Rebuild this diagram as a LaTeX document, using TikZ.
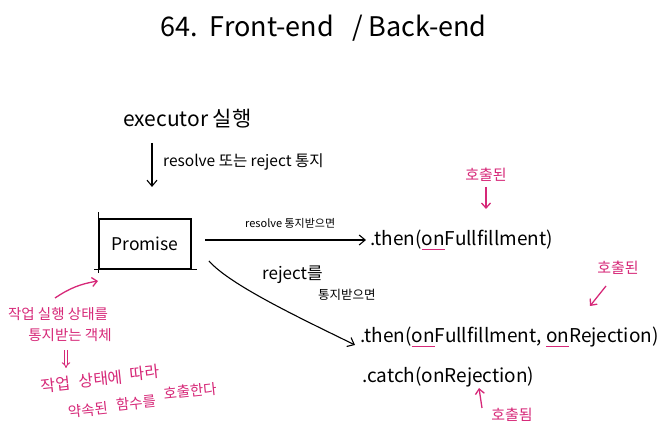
\documentclass[tikz,border=0pt]{standalone}
\usepackage{fontspec}
\setmainfont{Noto Sans CJK KR}
\usetikzlibrary{arrows.meta,calc}
\definecolor{magc}{RGB}{214,40,120}
\newcommand\uon{\setbox0\hbox{on}\rlap{\color{magc}\rule[-4pt]{\wd0}{1.3pt}}\box0}
\tikzset{
  ink/.style={line width=1.1pt, black},
  arr/.style={ink, -{Straight Barb[length=6pt,width=10pt]}},
  marr/.style={line width=1.3pt, magc, -{Straight Barb[length=5pt,width=9pt]}},
  txt/.style={inner sep=0pt, anchor=base west},
  mtxt/.style={inner sep=0pt, text=magc, font=\fontsize{15}{17}\selectfont},
  code/.style={txt, font=\fontsize{19}{22}\selectfont}
}
\begin{document}
\begin{tikzpicture}[x=1pt,y=-1pt]
\useasboundingbox (0,0) rectangle (670,443);
% title
\node[txt, font=\fontsize{27}{31}\selectfont] (title) at (160,37) {64.\ \ Front-end\ \ \ / Back-end};
% executor
\node[txt, font=\fontsize{21}{24}\selectfont] (exec) at (123,127) {executor 실행};
\coordinate (ea) at (152,143);
\coordinate (eb) at (152,187);
\draw[arr] (ea) -- (eb);
\node[txt, font=\fontsize{15.5}{18}\selectfont] (lab1) at (163,167) {resolve 또는 reject 통지};
% promise
\node[draw, line width=1.2pt, minimum width=92pt, minimum height=50pt, font=\fontsize{17.5}{20}\selectfont] (promise) at (145,244) {Promise};
\draw[ink] ($(promise.north west)+(0,-6)$) -- ($(promise.south west)+(0,3)$);
\draw[ink] ($(promise.south west)+(-4,0)$) -- ($(promise.south east)+(5,0)$);
% then 1
\node[code] (then1) at (370,246) {.then(\uon Fullfillment)};
\coordinate (ra) at (205,240);
\draw[arr] (ra) -- ($(then1.west |- ra)+(-4,0)$);
\node[txt, font=\fontsize{11}{13}\selectfont] (lab2) at (245,228) {resolve 통지받으면};
\node[mtxt] (call1) at (486,175) {호출된};
\draw[marr] (call1.south) ++(0,5) coordinate (c1a) -- ++(0,22) coordinate (c1b);
% reject curve
\node[code] (then2) at (360,343) {.then(\uon Fullfillment, \uon Rejection)};
\node[code] (catch) at (362,383) {.catch(onRejection)};
\coordinate (ja) at (209,261);
\coordinate (jb) at (355,345);
\draw[arr] (ja) .. controls (230,285) and (300,318) .. (jb);
\node[txt, font=\fontsize{17}{19}\selectfont] (lab3) at (262,280) {reject를};
\node[txt, font=\fontsize{12.5}{14}\selectfont] (lab4) at (318,300) {통지받으면};
\node[mtxt] (call2) at (618,268) {호출된};
\coordinate (c2a) at (606,286);
\coordinate (c2b) at (590,306);
\draw[marr] (c2a) -- (c2b);
\node[mtxt] (call3) at (512,415) {호출됨};
\coordinate (c3a) at (482,408);
\coordinate (c3b) at (479,388);
\draw[marr] (c3a) -- (c3b);
% left notes
\coordinate (la) at (55,298);
\coordinate (lb) at (98,281);
\draw[marr] (la) to[bend left=12] (lb);
\node[mtxt, font=\fontsize{14.5}{17}\selectfont] (n1) at (58,314) {작업 실행 상태를};
\node[mtxt, font=\fontsize{14.5}{17}\selectfont] (n2) at (70,335) {통지받는 객체};
\coordinate (da) at (66,350);
\coordinate (db) at (66,368);
\draw[magc, line width=0.9pt, double distance=2pt, -{Implies}] (da) -- (db);
\begin{scope}[every node/.style={mtxt, rotate=6, font=\fontsize{16}{19}\selectfont}]
\node (n3a) at (56,385) {작업};
\node (n3b) at (101,379) {상태에};
\node (n3c) at (145,373) {따라};
\end{scope}
\begin{scope}[every node/.style={mtxt, rotate=6, font=\fontsize{14.5}{17}\selectfont}]
\node (n4a) at (88,410) {약속된};
\node (n4b) at (136,403) {함수를};
\node (n4c) at (190,391) {호출한다};
\end{scope}
\end{tikzpicture}
\end{document}
